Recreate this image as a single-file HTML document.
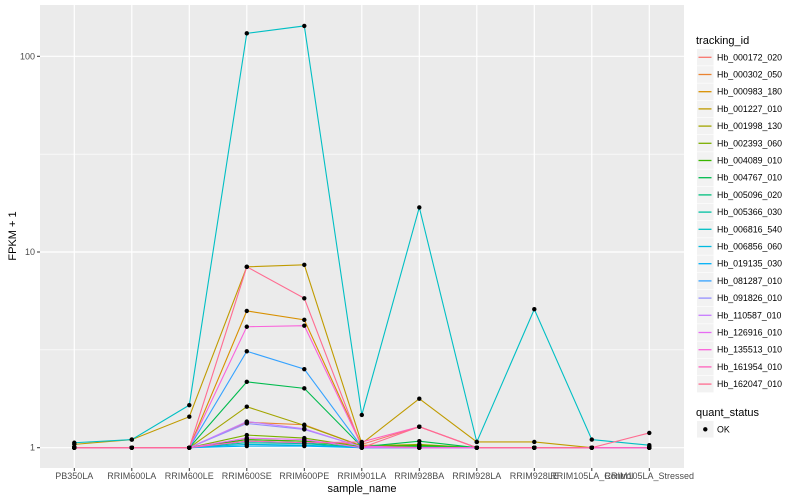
<!DOCTYPE html>
<html><head><meta charset="utf-8"><style>
body{margin:0;background:#fff;}
svg{display:block;font-family:"Liberation Sans",sans-serif;}
</style></head><body>
<svg id="chart" width="800" height="500" viewBox="0 0 800 500"></svg>
<script>
const categories=["PB350LA","RRIM600LA","RRIM600LE","RRIM600SE","RRIM600PE","RRIM901LA","RRIM928BA","RRIM928LA","RRIM928LE","RRIM105LA_Control","RRIM105LA_Stressed"];
const seriesNames=["Hb_000172_020","Hb_000302_050","Hb_000983_180","Hb_001227_010","Hb_001998_130","Hb_002393_060","Hb_004089_010","Hb_004767_010","Hb_005096_020","Hb_005366_030","Hb_006816_540","Hb_006856_060","Hb_019135_030","Hb_081287_010","Hb_091826_010","Hb_110587_010","Hb_126916_010","Hb_135513_010","Hb_161954_010","Hb_162047_010"];
const seriesColors=["#F8766D","#EA8331","#D89000","#C09B00","#A3A500","#7CAE00","#39B600","#00BB4E","#00BF7D","#00C1A3","#00BFC4","#00BAE0","#00B0F6","#35A2FF","#9590FF","#C77CFF","#E76BF3","#FA62DB","#FF62BC","#FF6C91"];
const s000172=[1,1,1,1.1,1.08,1.04,1.28,1,1,1,1];
const s000302=[1,1,1,1.35,1.31,1.02,1,1,1,1,1];
const s000983=[1,1,1,5.0,4.5,1.03,1.02,1,1,1,1];
const s001227=[1.04,1.1,1.44,8.4,8.6,1.05,1.78,1.07,1.07,1,1];
const s001998=[1,1,1,1.62,1.3,1.02,1.04,1,1,1,1];
const s002393=[1,1,1,1.16,1.12,1.01,1.02,1,1,1,1];
const s004089=[1,1,1,1.1,1.08,1.01,1.03,1,1,1,1];
const s004767=[1,1,1,2.17,2.01,1.01,1.08,1,1,1,1];
const s005096=[1,1,1,1.08,1.06,1,1.01,1,1,1,1];
const s005366=[1,1,1,1.06,1.05,1,1,1,1,1,1];
const s006816=[1.06,1.1,1.65,131,143,1.47,16.9,1.07,5.1,1.1,1.03];
const s006856=[1,1,1,1.04,1.03,1,1,1,1,1,1];
const s019135=[1,1,1,1.02,1.02,1,1,1,1,1,1];
const s081287=[1,1,1,3.11,2.52,1.01,1,1,1,1,1];
const s091826=[1,1,1,1.33,1.24,1.01,1,1,1,1,1];
const s110587=[1,1,1,1.36,1.25,1.01,1,1,1,1,1];
const s126916=[1,1,1,1.12,1.1,1,1,1,1,1,1];
const s135513=[1,1,1,4.15,4.2,1.02,1,1,1,1,1];
const s161954=[1,1,1,1.08,1.06,1.07,1.28,1,1,1,1];
const s162047=[1,1,1,8.4,5.8,1.0,1.28,1,1,1,1.19];
const seriesValues=[s000172,s000302,s000983,s001227,s001998,s002393,s004089,s004767,s005096,s005366,s006816,s006856,s019135,s081287,s091826,s110587,s126916,s135513,s161954,s162047];
const yTicks=[1,10,100];
const yTickLabels=["1","10","100"];
const yMinor=[Math.pow(10,0.5),Math.pow(10,1.5)];

const NS="http://www.w3.org/2000/svg";
const svg=document.getElementById("chart");
const P={l:40,r:684,t:5,b:468};
function x(i){return 74.3+i*57.5;}
function y(v){return 447.7-195.7*Math.log10(v);}
function mk(tag,attrs,parent){const e=document.createElementNS(NS,tag);for(const k in attrs)e.setAttribute(k,attrs[k]);(parent||svg).appendChild(e);return e;}

const panel=mk("rect",{x:P.l,y:P.t,width:P.r-P.l,height:P.b-P.t,fill:"#EBEBEB"});


yMinor.forEach(v=>{const g=mk("line",{x1:P.l,x2:P.r,y1:y(v),y2:y(v),stroke:"#fff","stroke-width":0.6});

});
yTicks.forEach((v,i)=>{const g=mk("line",{x1:P.l,x2:P.r,y1:y(v),y2:y(v),stroke:"#fff","stroke-width":1.2});


const tk=mk("line",{x1:P.l-3,x2:P.l,y1:y(v),y2:y(v),stroke:"#333","stroke-width":1});


const t=mk("text",{x:P.l-5,y:y(v)+3,"text-anchor":"end","font-size":"9",fill:"#4D4D4D"});t.textContent=yTickLabels[i];

});
categories.forEach((c,i)=>{const g=mk("line",{x1:x(i),x2:x(i),y1:P.t,y2:P.b,stroke:"#fff","stroke-width":1.2});


const tk=mk("line",{x1:x(i),x2:x(i),y1:P.b,y2:P.b+3,stroke:"#333","stroke-width":1});


const t=mk("text",{x:x(i),y:479,"text-anchor":"middle","font-size":"9",fill:"#4D4D4D"});t.textContent=c;

});
seriesValues.forEach((vals,si)=>{const pl=mk("polyline",{points:vals.map((v,i)=>x(i)+","+y(v)).join(" "),fill:"none",stroke:seriesColors[si],"stroke-width":1.1});

});
seriesValues.forEach((vals,si)=>{vals.forEach((v,i)=>{const p=mk("circle",{cx:x(i),cy:y(v),r:2.2,fill:"#000"});

});});

const xt=mk("text",{x:(P.l+P.r)/2,y:492,"text-anchor":"middle","font-size":"11",fill:"#000"});xt.textContent="sample_name";


const yt=mk("text",{x:0,y:0,"text-anchor":"middle","font-size":"11",fill:"#000",transform:"translate(16,236) rotate(-90)"});yt.textContent="FPKM + 1";



const lt=mk("text",{x:696,y:44,"font-size":"11",fill:"#000"});lt.textContent="tracking_id";


seriesNames.forEach((n,i)=>{const cy=57.3+i*17.2;
const b=mk("rect",{x:697,y:cy-8.3,width:16.6,height:16.6,fill:"#F2F2F2"});


const l=mk("line",{x1:698.5,x2:711.5,y1:cy,y2:cy,stroke:seriesColors[i],"stroke-width":1.3});


const t=mk("text",{x:717,y:cy+3,"font-size":"8.8",fill:"#000"});t.textContent=n;

});
const qt=mk("text",{x:696,y:416,"font-size":"11",fill:"#000"});qt.textContent="quant_status";


const qb=mk("rect",{x:697,y:421,width:16.6,height:16.6,fill:"#F2F2F2"});


const qp=mk("circle",{cx:705.3,cy:429.3,r:2.2,fill:"#000"});


const qo=mk("text",{x:717,y:432.5,"font-size":"8.8",fill:"#000"});qo.textContent="OK";


</script>
</body></html>
